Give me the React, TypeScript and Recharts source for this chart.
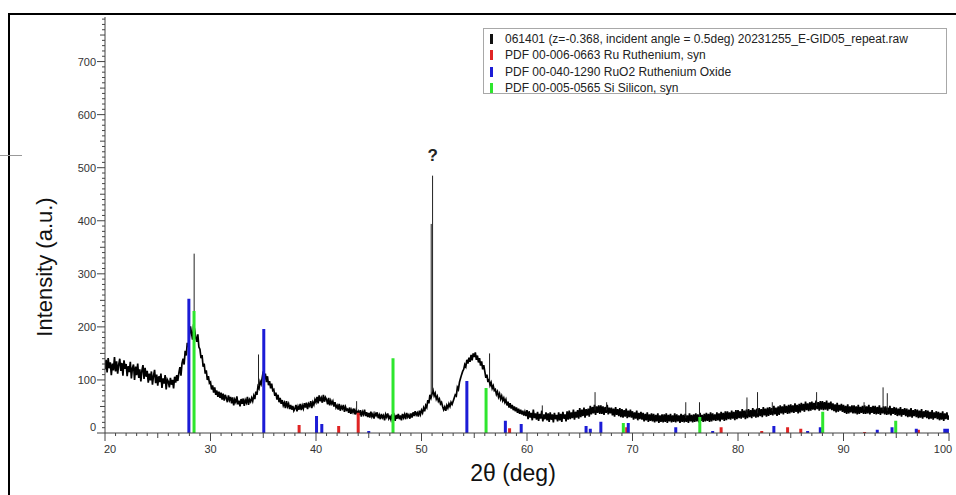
import React from "react";
import { ComposedChart, Line, XAxis, YAxis, ReferenceDot } from "recharts";

// 2θ sampling of the scan (one value every 0.1 deg, one row = 1 deg)
const START_DEG = 20;
const STEP_DEG = 0.1;

const scan20to40 = [
  120, 138, 114, 141, 122, 133, 109, 131, 118, 143,
  116, 135, 112, 129, 140, 117, 132, 108, 137, 121,
  130, 107, 126, 115, 134, 103, 122, 129, 100, 125,
  109, 131, 104, 120, 97, 118, 128, 102, 123, 106,
  117, 95, 112, 99, 116, 91, 108, 119, 94, 110,
  89, 107, 96, 112, 85, 103, 93, 109, 82, 101,
  97, 86, 104, 91, 100, 84, 106, 95, 109, 98,
  113, 124, 108, 131, 140, 129, 155, 146, 170, 162,
  182, 201, 188, 176, 205, 194, 180, 172, 186, 162,
  158, 141, 147, 125, 131, 112, 118, 100, 107, 94,
  96, 82, 90, 76, 86, 72, 80, 68, 78, 66,
  76, 63, 74, 61, 72, 66, 58, 71, 62, 68,
  56, 67, 52, 63, 58, 69, 54, 61, 50, 64,
  55, 65, 51, 62, 57, 68, 53, 63, 59, 66,
  60, 70, 64, 78, 72, 88, 84, 97, 92, 104,
  116, 101, 112, 96, 107, 90, 98, 84, 93, 80,
  82, 70, 76, 63, 72, 58, 66, 55, 62, 52,
  57, 47, 60, 50, 55, 45, 53, 44, 51, 42,
  46, 53, 41, 50, 44, 55, 43, 52, 46, 56,
  48, 57, 45, 55, 51, 60, 47, 58, 53, 63,
];
const scan40to60 = [
  58, 68, 56, 71, 60, 66, 57, 72, 59, 67,
  63, 54, 66, 52, 61, 55, 60, 50, 58, 48,
  52, 44, 55, 42, 50, 46, 53, 40, 49, 43,
  45, 38, 48, 36, 44, 39, 46, 35, 43, 37,
  41, 34, 43, 31, 40, 35, 44, 32, 39, 30,
  38, 29, 40, 31, 36, 27, 37, 33, 39, 28,
  34, 26, 36, 29, 33, 24, 35, 30, 37, 27,
  31, 25, 35, 28, 33, 23, 34, 27, 36, 26,
  33, 24, 36, 29, 35, 26, 38, 30, 34, 27,
  37, 29, 39, 32, 41, 34, 38, 31, 42, 35,
  43, 38, 47, 41, 52, 48, 62, 56, 72, 66,
  74, 80, 70, 75, 64, 69, 60, 64, 55, 58,
  50, 44, 49, 42, 52, 47, 55, 50, 58, 54,
  60, 66, 72, 70, 86, 82, 96, 103, 110, 116,
  120, 129, 125, 138, 131, 142, 134, 147, 137, 150,
  143, 152, 138, 146, 133, 141, 127, 135, 120, 128,
  116, 104, 110, 96, 102, 90, 95, 84, 89, 80,
  82, 73, 78, 68, 74, 64, 70, 61, 66, 58,
  63, 52, 59, 48, 56, 46, 53, 43, 50, 41,
  48, 38, 46, 36, 44, 35, 42, 33, 40, 32,
];
const scan60to80 = [
  43, 26, 41, 29, 38, 24, 44, 28, 37, 25,
  40, 23, 36, 27, 42, 22, 35, 26, 39, 24,
  37, 21, 39, 25, 35, 20, 38, 26, 34, 22,
  39, 24, 36, 21, 40, 27, 35, 22, 41, 25,
  42, 26, 39, 28, 44, 25, 40, 29, 43, 27,
  47, 30, 44, 32, 48, 29, 45, 33, 46, 31,
  51, 35, 49, 37, 53, 34, 50, 38, 52, 36,
  52, 36, 50, 34, 49, 38, 53, 35, 48, 37,
  48, 33, 46, 31, 49, 34, 45, 32, 47, 30,
  45, 29, 43, 31, 46, 28, 42, 30, 44, 29,
  41, 25, 39, 27, 42, 24, 38, 26, 40, 25,
  38, 22, 36, 24, 39, 21, 35, 23, 37, 22,
  36, 20, 34, 22, 37, 19, 33, 21, 35, 20,
  35, 21, 37, 19, 34, 22, 36, 20, 33, 21,
  37, 20, 35, 22, 33, 19, 36, 21, 34, 20,
  36, 21, 33, 19, 37, 22, 34, 20, 35, 21,
  37, 22, 35, 20, 38, 23, 34, 21, 36, 22,
  38, 23, 36, 21, 39, 22, 37, 24, 35, 23,
  39, 24, 37, 22, 40, 25, 38, 23, 41, 24,
  41, 26, 39, 25, 42, 27, 40, 24, 43, 26,
];
const scan80to100 = [
  43, 28, 41, 27, 45, 29, 42, 26, 44, 28,
  45, 30, 43, 28, 47, 31, 44, 29, 46, 30,
  47, 32, 45, 30, 49, 33, 46, 31, 48, 32,
  49, 34, 47, 33, 51, 35, 48, 32, 50, 34,
  52, 37, 50, 35, 54, 38, 51, 36, 53, 37,
  54, 39, 52, 38, 56, 40, 53, 37, 55, 39,
  57, 42, 55, 40, 59, 43, 56, 41, 58, 42,
  59, 44, 57, 43, 61, 45, 58, 42, 60, 44,
  60, 43, 58, 44, 61, 42, 57, 45, 59, 43,
  56, 41, 54, 39, 57, 40, 53, 42, 55, 40,
  53, 38, 51, 36, 54, 37, 50, 39, 52, 37,
  52, 37, 50, 35, 53, 36, 49, 38, 51, 36,
  52, 36, 50, 37, 53, 35, 49, 38, 51, 36,
  51, 35, 49, 36, 52, 34, 48, 37, 50, 35,
  50, 34, 48, 35, 51, 33, 47, 36, 49, 34,
  48, 32, 46, 33, 49, 31, 45, 34, 47, 32,
  46, 30, 44, 31, 47, 29, 43, 32, 45, 30,
  44, 28, 42, 29, 45, 27, 41, 30, 43, 28,
  42, 26, 40, 27, 43, 25, 39, 28, 41, 26,
  40, 24, 38, 25, 41, 23, 37, 26, 39, 25,
  33,
];

// narrow spikes in the scan: position, top, level at its foot
const spikePos = [28.45, 34.55, 43.85, 50.92, 51.05, 56.45, 61.45, 66.45, 67.55, 75.05, 76.35, 80.85, 81.85, 83.25, 87.45, 91.95, 93.75, 94.15];
const spikePeak = [338, 148, 60, 394, 485, 150, 52, 77, 58, 58, 58, 67, 77, 58, 77, 58, 86, 75];
const spikeBase = [190, 90, 42, 70, 78, 96, 31, 43, 43, 28, 29, 35, 37, 41, 51, 44, 43, 42];

// reference cards
const ruPos = [38.4, 42.15, 44.0, 58.35, 69.45, 78.4, 82.25, 84.7, 85.95, 92.0, 97.1];
const ruInt = [15, 13, 38, 9, 11, 11, 4, 11, 8, 2, 6];
const ruo2Pos = [27.95, 35.05, 40.05, 40.55, 45.0, 54.3, 57.95, 59.45, 65.6, 66.0, 67.0, 69.6, 74.1, 77.6, 83.4, 86.6, 87.8, 93.2, 94.6, 96.9, 99.6, 99.85];
const ruo2Int = [253, 196, 32, 17, 4, 98, 23, 17, 13, 8, 21, 19, 11, 4, 13, 4, 11, 6, 11, 8, 8, 8];
const siPos = [28.44, 47.3, 56.12, 69.13, 76.38, 88.03, 94.95];
const siInt = [230, 141, 85, 19, 30, 40, 23];

const legendItems = [
  { color: "#111111", label: "061401 (z=-0.368, incident angle = 0.5deg) 20231255_E-GID05_repeat.raw" },
  { color: "#e02424", label: "PDF 00-006-0663 Ru Ruthenium, syn" },
  { color: "#1c1cd6", label: "PDF 00-040-1290 RuO2 Ruthenium Oxide" },
  { color: "#2ee62e", label: "PDF 00-005-0565 Si Silicon, syn" },
];

const xTicks: number[] = [];
for (let v = 20; v <= 100; v++) xTicks.push(v);
const yTicks: number[] = [];
for (let v = 0; v <= 780; v += 10) yTicks.push(v);

const scan = [...scan20to40, ...scan40to60, ...scan60to80, ...scan80to100];
const pattern = scan.map((y, i) => ({ x: +(START_DEG + i * STEP_DEG).toFixed(2), y }));

// thin spikes drawn as separate segments so the noisy band can be a bit heavier
const spikes: { x: number; y: number | null }[] = [];
spikePos.forEach((p, i) => {
  spikes.push({ x: p, y: spikeBase[i] }, { x: p, y: spikePeak[i] }, { x: p, y: null });
});

function sticks(pos: number[], h: number[]) {
  const out: { x: number; y: number | null }[] = [];
  pos.forEach((p, i) => {
    out.push({ x: p, y: 0 }, { x: p, y: h[i] }, { x: p, y: null });
  });
  return out;
}

const FONT = "'Liberation Sans', Arial, sans-serif";
const AXIS = "#444";

const XTick = (props: any) => {
  const { x, y, payload } = props;
  const v = Math.round(payload.value);
  const major = v % 10 === 0;
  const len = major ? 8 : v % 5 === 0 ? 5 : 3;
  const dx = v === 20 ? 5 : v === 100 ? -6 : 0;
  return (
    <g>
      <line x1={x} x2={x} y1={y} y2={y + len} stroke={AXIS} />
      {major && (
        <text x={x + dx} y={y + 20} textAnchor="middle" fontSize={11} fill="#333" fontFamily={FONT}>
          {v}
        </text>
      )}
    </g>
  );
};

const YTick = (props: any) => {
  const { x, y, payload } = props;
  const v = Math.round(payload.value);
  const major = v % 100 === 0;
  const len = major ? 8 : v % 50 === 0 ? 5 : 3;
  const dy = v === 0 ? -6 : 0;
  return (
    <g>
      <line x1={x - len} x2={x} y1={y} y2={y} stroke={AXIS} />
      {major && (
        <text x={x - 9} y={y + dy + 4} textAnchor="end" fontSize={11} fill="#333" fontFamily={FONT}>
          {v}
        </text>
      )}
    </g>
  );
};

export default function App() {
  return (
    <div style={{ position: "relative", width: 956, height: 495, overflow: "hidden", background: "#fff", fontFamily: FONT }}>
      <style>{"body{margin:0}"}</style>
      <div style={{ position: "absolute", left: 8, top: 13, width: 970, height: 500, borderLeft: "2px solid #000", borderTop: "2px solid #000" }} />
      <div style={{ position: "absolute", left: 0, top: 155, width: 22, height: 1, background: "#999" }} />

      <ComposedChart width={956} height={495} margin={{ top: 17, right: 7, bottom: 22, left: 45 }}>
        <XAxis
          type="number"
          dataKey="x"
          domain={[20, 100]}
          allowDataOverflow
          ticks={xTicks}
          interval={0}
          tickLine={false}
          tickSize={0}
          tickMargin={0}
          tick={<XTick />}
          axisLine={{ stroke: AXIS }}
          height={40}
        />
        <YAxis
          type="number"
          domain={[0, 784]}
          allowDataOverflow
          ticks={yTicks}
          interval={0}
          tickLine={false}
          tickSize={0}
          tickMargin={0}
          tick={<YTick />}
          axisLine={{ stroke: AXIS }}
          width={60}
        />
        <Line data={pattern} dataKey="y" stroke="#000" strokeWidth={1.7} dot={false} isAnimationActive={false} />
        <Line data={spikes} dataKey="y" stroke="#222" strokeWidth={1} dot={false} isAnimationActive={false} />
        <Line data={sticks(ruPos, ruInt)} dataKey="y" stroke="#e02424" strokeWidth={3} dot={false} isAnimationActive={false} />
        <Line data={sticks(ruo2Pos, ruo2Int)} dataKey="y" stroke="#1c1cd6" strokeWidth={3} dot={false} isAnimationActive={false} />
        <Line data={sticks(siPos, siInt)} dataKey="y" stroke="#2ee62e" strokeWidth={3} dot={false} isAnimationActive={false} />
        <ReferenceDot
          x={51.07}
          y={524}
          r={0}
          fill="none"
          stroke="none"
          label={{ value: "?", position: "center", fontSize: 17, fontWeight: "bold", fill: "#222", fontFamily: FONT }}
        />
      </ComposedChart>

      <div
        style={{
          position: "absolute",
          left: 483,
          top: 28,
          width: 464,
          height: 66,
          border: "1px solid #a8a8a8",
          boxSizing: "border-box",
          background: "#fff",
          paddingTop: 2,
        }}
      >
        {legendItems.map((it) => (
          <div key={it.label} style={{ display: "flex", alignItems: "center", height: 16.3, fontSize: 12, color: "#222", whiteSpace: "nowrap" }}>
            <span style={{ display: "inline-block", width: 3, height: 10, background: it.color, marginLeft: 6, marginRight: 12 }} />
            {it.label}
          </div>
        ))}
      </div>

      <div style={{ position: "absolute", left: 0, width: 956, top: 460, textAlign: "center", paddingLeft: 70, boxSizing: "border-box", fontSize: 23, color: "#111" }}>
        2θ (deg)
      </div>
      <div
        style={{
          position: "absolute",
          left: 45,
          top: 267,
          transform: "translate(-50%, -50%) rotate(-90deg)",
          fontSize: 22,
          color: "#111",
          whiteSpace: "nowrap",
        }}
      >
        Intensity (a.u.)
      </div>
    </div>
  );
}
